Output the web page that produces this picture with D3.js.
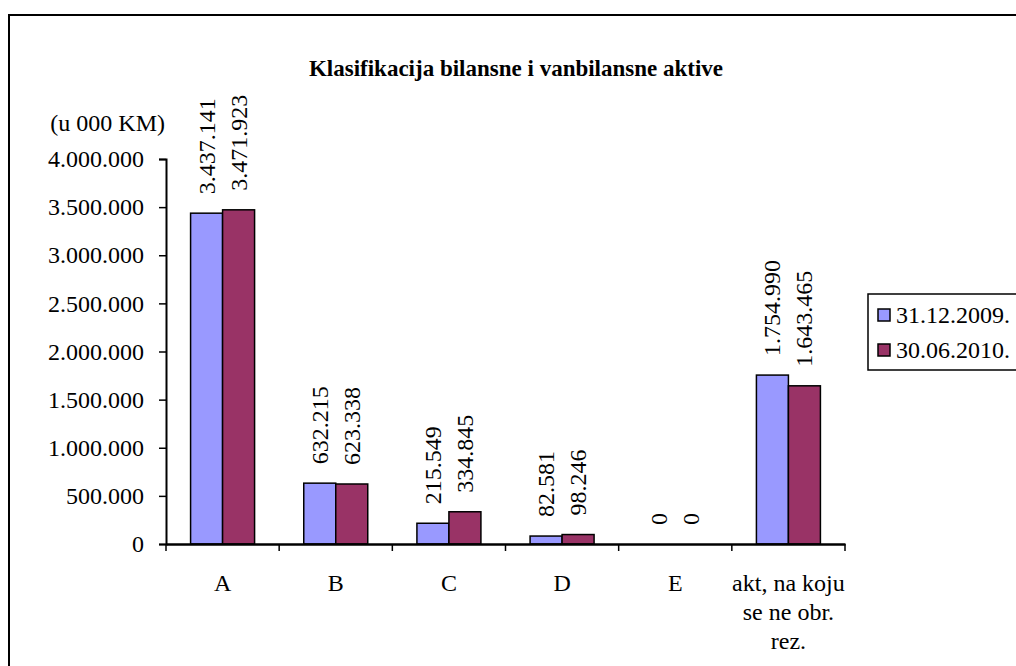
<!DOCTYPE html>
<html><head><meta charset="utf-8">
<script src="https://cdn.jsdelivr.net/npm/d3@7"></script>
<style>body{margin:0;background:#fff;}svg{display:block;}svg text{font-family:"Times New Roman","Liberation Serif",Tinos,serif;}</style>
</head><body>
<svg id="c" width="1016" height="666"></svg>
<script>
const categories = ["A","B","C","D","E","akt, na koju|se ne obr.|rez."];
const series2009 = [3437141, 632215, 215549, 82581, 0, 1754990];
const series2010 = [3471923, 623338, 334845, 98246, 0, 1643465];
const seriesNames = ["31.12.2009.","30.06.2010."];
const yTicks = [0,500000,1000000,1500000,2000000,2500000,3000000,3500000,4000000];
const colors = ["#9999FF","#993366"];
const FS = 24;

const svg = d3.select("#c");
svg.append("rect").attr("x",9).attr("y",15).attr("width",1030).attr("height",700)
  .attr("fill","#fff").attr("stroke","#000").attr("stroke-width",2);

const pLeft=166, pRight=845, pTop=159, pBottom=544;
const x = d3.scaleBand().domain(categories).range([pLeft,pRight]).paddingInner(0).paddingOuter(0);
const y = d3.scaleLinear().domain([0,4000000]).range([pBottom,pTop]);
const fmt = v => d3.format(",")(v).replace(/,/g,".");

svg.append("text").attr("x",516).attr("y",76).attr("text-anchor","middle")
  .attr("font-weight","bold").attr("font-size",23).text("Klasifikacija bilansne i vanbilansne aktive");
svg.append("text").attr("x",165).attr("y",131).attr("text-anchor","end")
  .attr("font-size",FS).text("(u 000 KM)");

const bw = 32;
const data = categories.map((c,i)=>({c, vals:[series2009[i],series2010[i]]}));
const g = svg.append("g");
data.forEach(d=>{
  const cx = x(d.c)+x.bandwidth()/2;
  d.vals.forEach((v,j)=>{
    const bx = cx - bw + j*bw;
    if (v>0) g.append("rect").attr("x",bx).attr("y",y(v)).attr("width",bw).attr("height",y(0)-y(v))
      .attr("fill",colors[j]).attr("stroke","#000").attr("stroke-width",1.5);
    const lx = bx+bw/2, ly = y(v)-19;
    g.append("text").attr("transform",`translate(${lx+8},${ly}) rotate(-90)`)
      .attr("font-size",FS).text(fmt(v));
  });
});

const ya = svg.append("g").attr("transform",`translate(${pLeft},0)`)
  .call(d3.axisLeft(y).tickValues(yTicks).tickSize(7).tickPadding(15).tickFormat(fmt));
ya.attr("font-family",null);
ya.select(".domain").attr("stroke-width",2);
ya.selectAll(".tick line").attr("stroke-width",1.5);
ya.selectAll("text").attr("font-size",FS).attr("fill","#000");

const xa = svg.append("g").attr("transform",`translate(0,${pBottom})`)
  .call(d3.axisBottom(x).tickSize(0).tickFormat(""));
xa.select(".domain").attr("stroke-width",2.5);
const bounds = categories.map(c=>x(c)).concat([pRight]);
xa.selectAll(".edge").data(bounds).enter().append("line")
  .attr("x1",d=>d).attr("x2",d=>d).attr("y1",0).attr("y2",7).attr("stroke","#000").attr("stroke-width",1.5);
categories.forEach(c=>{
  const lines = c.split("|");
  const t = svg.append("text").attr("text-anchor","middle").attr("font-size",FS);
  lines.forEach((ln,k)=>t.append("tspan").attr("x",x(c)+x.bandwidth()/2).attr("y",591+k*29).text(ln));
});

const lg = svg.append("g");
lg.append("rect").attr("x",868).attr("y",294).attr("width",160).attr("height",76)
  .attr("fill","#fff").attr("stroke","#000").attr("stroke-width",1.5);
seriesNames.forEach((s,i)=>{
  const cy = 315 + i*35;
  lg.append("rect").attr("x",878).attr("y",cy-6).attr("width",12).attr("height",12)
    .attr("fill",colors[i]).attr("stroke","#000").attr("stroke-width",1.5);
  lg.append("text").attr("x",896).attr("y",cy+8).attr("font-size",FS).text(s);
});
</script>
</body></html>
